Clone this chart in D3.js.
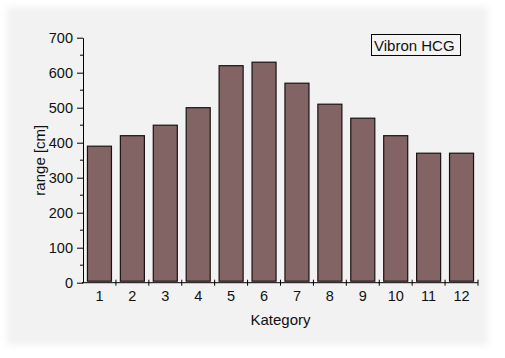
<!DOCTYPE html>
<html><head><meta charset="utf-8">
<script src="https://cdn.jsdelivr.net/npm/d3@7"></script>
<style>body{margin:0;background:#fff}svg{display:block}text{font-family:"Liberation Sans",Arial,sans-serif;fill:#111}</style>
</head><body>
<script>
const categories = ["1","2","3","4","5","6","7","8","9","10","11","12"];
const values = [390,420,450,500,620,630,570,510,470,420,370,370];
const yTicks = [0,100,200,300,400,500,600,700];
const seriesName = "Vibron HCG";
const xTitle = "Kategory";
const yTitle = "range [cm]";

const W=505,H=358;
const svg=d3.select("body").append("svg").attr("width",W).attr("height",H);
const defs=svg.append("defs");
defs.append("filter").attr("id","blur").attr("x","-10%").attr("y","-10%").attr("width","120%").attr("height","120%")
  .append("feGaussianBlur").attr("stdDeviation",3.5);
svg.append("rect").attr("x",7).attr("y",7).attr("width",481).attr("height",338)
  .attr("fill","#f2f2f2").attr("filter","url(#blur)");

const L=83,R=478,T=37.7,B=282.7;
const x=d3.scaleBand().domain(categories).range([L,R]).paddingInner(0.24).paddingOuter(0.12);
const xb=d3.scaleBand().domain(categories).range([L,R]);
const y=d3.scaleLinear().domain([0,700]).range([B,T]);

// bars
svg.append("g").selectAll("rect").data(values).join("rect")
  .attr("x",(d,i)=>x(categories[i])+0.5).attr("width",x.bandwidth()-1)
  .attr("y",d=>y(d)).attr("height",d=>y(0)-1.5-y(d))
  .attr("fill","#836464").attr("stroke","#1a1212").attr("stroke-width",1.2);

// y axis
const ya=svg.append("g").attr("transform",`translate(${L},0)`)
  .call(d3.axisLeft(y).tickValues(yTicks).tickSize(6).tickPadding(4).tickSizeOuter(0));
ya.selectAll(".tick text").attr("font-size",14.5).style("font-family","Liberation Sans, Arial, sans-serif").attr("fill","#111");
ya.select(".domain").attr("stroke","#000");
ya.selectAll(".tick line").attr("stroke","#000");
const minor=d3.range(50,700,100);
svg.append("g").selectAll("line").data(minor).join("line")
  .attr("x1",L-3).attr("x2",L).attr("y1",d=>y(d)).attr("y2",d=>y(d)).attr("stroke","#000");

// x axis
const xa=svg.append("g").attr("transform",`translate(0,${B})`);
xa.append("line").attr("x1",L-1).attr("x2",R).attr("stroke","#000");
const bounds=categories.map(c=>xb(c)).concat([R]);
xa.selectAll("line.t").data(bounds.slice(1)).join("line").attr("class","t")
  .attr("x1",d=>d).attr("x2",d=>d).attr("y1",-3).attr("y2",3).attr("stroke","#000");
xa.selectAll("text").data(categories).join("text")
  .attr("x",d=>xb(d)+xb.bandwidth()/2).attr("y",18).attr("text-anchor","middle")
  .attr("font-size",14.5).text(d=>d);

svg.append("text").attr("x",(L+R)/2).attr("y",325).attr("text-anchor","middle").attr("font-size",15).text(xTitle);
svg.append("text").attr("transform",`translate(45,${(T+B)/2}) rotate(-90)`).attr("text-anchor","middle").attr("font-size",15).text(yTitle);

// legend
svg.append("rect").attr("x",371.5).attr("y",34.5).attr("width",89).attr("height",21).attr("fill","#f4f4f4").attr("stroke","#000");
svg.append("text").attr("x",374).attr("y",50.5).attr("font-size",15).text(seriesName);
</script>
</body></html>
